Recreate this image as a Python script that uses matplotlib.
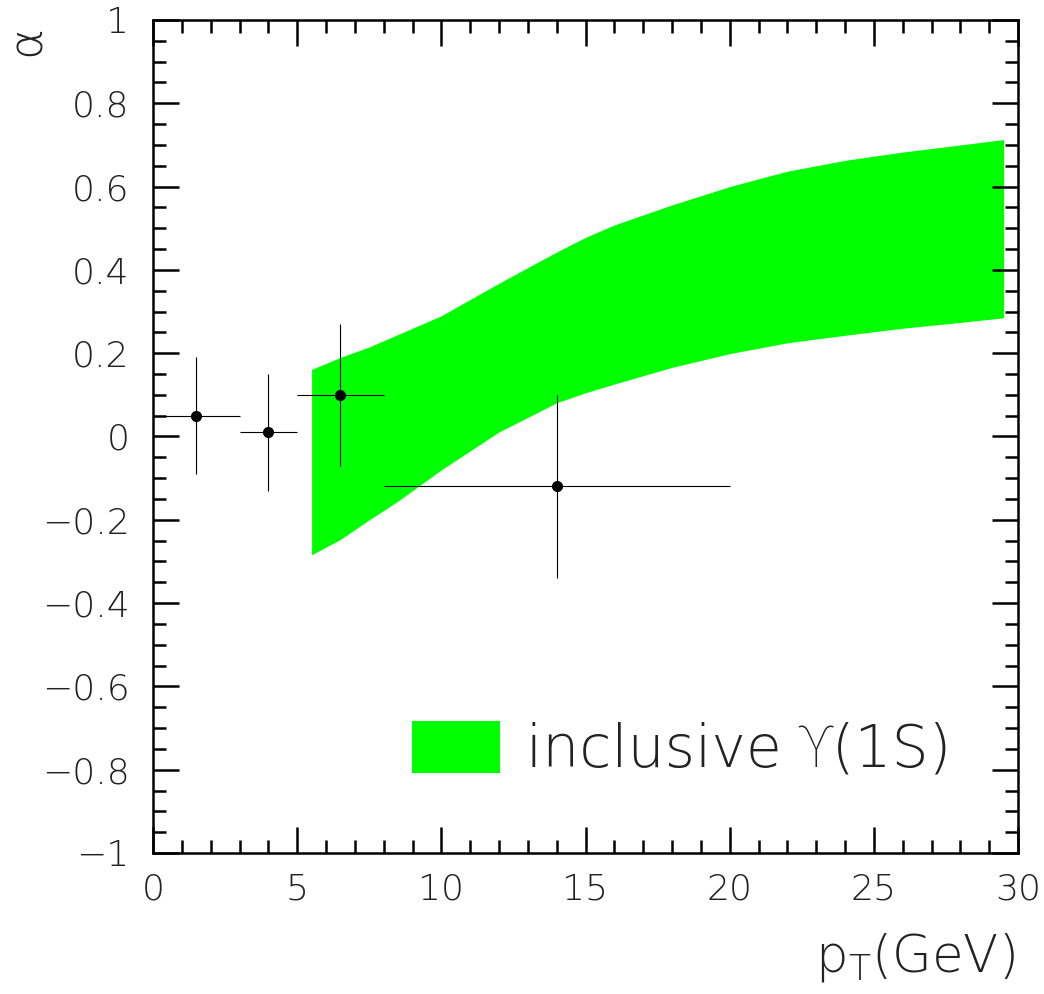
import matplotlib
matplotlib.use("Agg")
import matplotlib.pyplot as plt
from matplotlib.ticker import MultipleLocator

# ---- data ----
pt_points = [1.5, 4.0, 6.5, 14.0]
alpha_points = [0.05, 0.01, 0.10, -0.12]
pt_err = [1.5, 1.0, 1.5, 6.0]
alpha_err = [0.14, 0.14, 0.17, 0.22]

band_pt = [5.5, 6.5, 7.5, 8.5, 10, 12, 14, 15, 16, 18, 20, 22, 24, 26, 28, 29.5]
band_upper = [0.161, 0.19, 0.215, 0.245, 0.29, 0.368, 0.443, 0.478, 0.508, 0.556,
              0.60, 0.637, 0.663, 0.683, 0.70, 0.713]
band_lower = [-0.284, -0.247, -0.20, -0.155, -0.08, 0.011, 0.081, 0.105, 0.126, 0.166,
              0.199, 0.225, 0.243, 0.26, 0.274, 0.285]

band_label = "inclusive \u03d2(1S)"
xlabel = "p$_{\\mathrm{T}}$(GeV)"
ylabel = "\u03b1"

plt.rcParams["font.family"] = ["DejaVu Sans", "Roboto", "Open Sans"]
plt.rcParams["font.weight"] = "light"
plt.rcParams["mathtext.fontset"] = "dejavusans"

fig = plt.figure(figsize=(10.44, 9.94), dpi=100)
ax = fig.add_axes([153 / 1044, (994 - 853) / 994, (1018 - 153) / 1044, (853 - 20) / 994])

ax.fill_between(band_pt, band_lower, band_upper, color="#00ff00", lw=0,
                label=band_label, zorder=1)
ax.errorbar(pt_points, alpha_points, xerr=pt_err, yerr=alpha_err, fmt="o",
            color="black", ms=7, elinewidth=0.8, capsize=0, zorder=3)

ax.set_xlim(0, 30)
ax.set_ylim(-1, 1)
ax.xaxis.set_major_locator(MultipleLocator(5))
ax.xaxis.set_minor_locator(MultipleLocator(1))
ax.yaxis.set_major_locator(MultipleLocator(0.2))
ax.yaxis.set_minor_locator(MultipleLocator(0.05))

def fmt(v, pos=None):
    if abs(v) < 1e-9:
        return "0"
    s = ("%g" % v)
    return s.replace("-", "\u2212")

ax.xaxis.set_major_formatter(plt.FuncFormatter(fmt))
ax.yaxis.set_major_formatter(plt.FuncFormatter(fmt))

ax.tick_params(which="both", direction="in", top=True, right=True, width=1.8,
               labelcolor="#222222")
ax.tick_params(which="major", length=19, labelsize=26)
ax.tick_params(which="minor", length=9.5)
ax.tick_params(axis="y", which="major", pad=17)
ax.tick_params(axis="x", which="major", pad=14)
for sp in ax.spines.values():
    sp.set_linewidth(1.8)

fig.text(1015 / 1044, 1 - 958 / 994, xlabel, ha="right", va="center", fontsize=37,
         color="#222222")
fig.text(27 / 1044, 1 - 40 / 994, ylabel, ha="center", va="center", fontsize=34,
         rotation=90, color="#222222")

leg = ax.legend(loc="center left", bbox_to_anchor=((412 - 153) / 865, (853 - 750) / 833),
                frameon=False, fontsize=42, borderpad=0, borderaxespad=0,
                handlelength=1.51, handleheight=1.0, handletextpad=0.45)
for t in leg.get_texts():
    t.set_color("#222222")

fig.savefig("out.png", dpi=100)
